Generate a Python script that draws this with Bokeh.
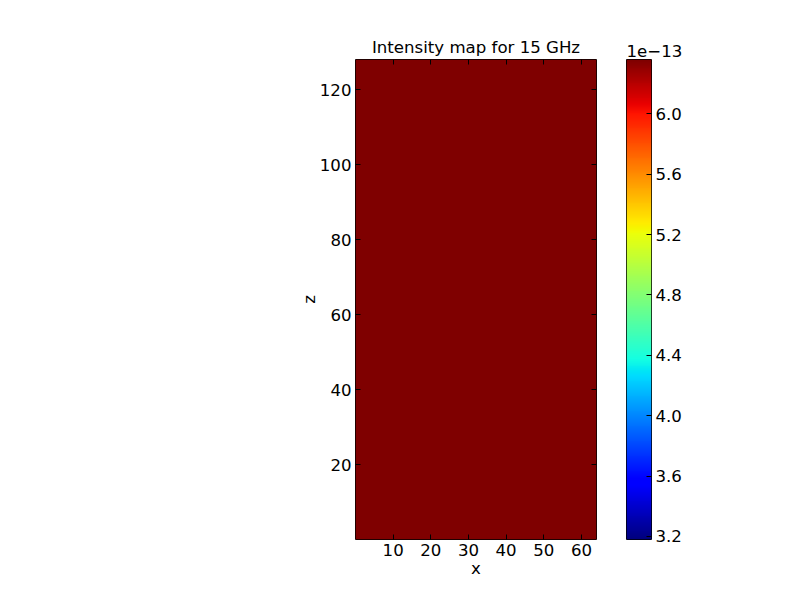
import numpy as np
from bokeh.plotting import figure
from bokeh.models import LinearColorMapper, LinearAxis, FixedTicker, Range1d, PrintfTickFormatter
from bokeh.layouts import row
from bokeh.embed import file_html
from bokeh.resources import INLINE

# map data (flat map, sits at the top of the colour scale)
freq_label = "15 GHz"
nx, nz = 64, 128
intensity_level = 6.36e-13
vmin, vmax = 3.18e-13, 6.36e-13
x_ticks = [10, 20, 30, 40, 50, 60]
z_ticks = [20, 40, 60, 80, 100, 120]
cbar_ticks = [3.2, 3.6, 4.0, 4.4, 4.8, 5.2, 5.6, 6.0]
cbar_scale = 1e-13

FONT = "DejaVu Sans"
FSIZE = "16.6px"


def jet(n=256):
    t = np.linspace(0, 1, n)
    r = np.interp(t, [0, .35, .66, .89, 1], [0, 0, 1, 1, .5])
    g = np.interp(t, [0, .125, .375, .64, .91, 1], [0, 0, 1, 1, 0, 0])
    b = np.interp(t, [0, .11, .34, .65, 1], [.5, 1, 1, 0, 0])
    return ["#%02x%02x%02x" % (int(R * 255), int(G * 255), int(B * 255)) for R, G, B in zip(r, g, b)]


def style_axis(ax, ticks, labels=True):
    ax.ticker = FixedTicker(ticks=ticks)
    ax.axis_line_color = None
    ax.major_tick_in = 5
    ax.major_tick_out = 0
    ax.minor_tick_line_color = None
    ax.major_tick_line_color = "black"
    ax.major_label_text_font = FONT
    ax.major_label_text_color = "black"
    ax.major_label_text_font_size = FSIZE
    ax.major_label_standoff = 4
    if not labels:
        ax.major_label_overrides = {t: "" for t in ticks}
        ax.major_label_standoff = 0
    ax.axis_label_text_font = FONT
    ax.axis_label_text_font_size = FSIZE
    ax.axis_label_text_font_style = "normal"
    ax.axis_label_text_color = "black"
    ax.axis_label_standoff = 0


def style_title(t, align):
    t.align = align
    t.text_font = FONT
    t.text_font_size = FSIZE
    t.text_font_style = "normal"
    t.text_color = "black"
    t.standoff = 5


palette = jet()
mapper = LinearColorMapper(palette=palette, low=vmin, high=vmax)
intensity = np.full((nz, nx), intensity_level)

p = figure(width=608, height=590, min_border_left=355, min_border_right=12,
           min_border_top=59, min_border_bottom=51,
           x_range=Range1d(0, nx), y_range=Range1d(0, nz),
           x_axis_label="x", y_axis_label="z",
           title="Intensity map for " + freq_label,
           toolbar_location=None, output_backend="svg")
p.image(image=[intensity], x=0, y=0, dw=nx, dh=nz, color_mapper=mapper)
p.grid.visible = False
p.outline_line_color = "black"
p.outline_line_alpha = 1
p.outline_line_width = 1
style_axis(p.xaxis[0], x_ticks)
style_axis(p.yaxis[0], z_ticks)
p.yaxis[0].axis_label_standoff = -2
top_axis = LinearAxis()
style_axis(top_axis, x_ticks, labels=False)
p.add_layout(top_axis, "above")
right_axis = LinearAxis()
style_axis(right_axis, z_ticks, labels=False)
p.add_layout(right_axis, "right")
style_title(p.title, "center")

# colour bar as its own narrow figure
grad = np.linspace(vmin, vmax, 256).reshape(-1, 1)
c = figure(width=176, height=590, min_border_left=18, min_border_right=133,
           min_border_top=59, min_border_bottom=51,
           x_range=Range1d(0, 1), y_range=Range1d(vmin / cbar_scale, vmax / cbar_scale),
           x_axis_location=None, y_axis_location="right",
           title="1e\u221213",
           toolbar_location=None, output_backend="svg")
c.image(image=[grad], x=0, y=vmin / cbar_scale, dw=1, dh=(vmax - vmin) / cbar_scale,
        color_mapper=mapper)
c.grid.visible = False
c.outline_line_color = "black"
c.outline_line_alpha = 1
style_axis(c.yaxis[0], cbar_ticks)
c.yaxis[0].formatter = PrintfTickFormatter(format="%.1f")
style_title(c.title, "left")

layout = row(p, c)
open("out.html", "w").write(file_html(layout, INLINE))
